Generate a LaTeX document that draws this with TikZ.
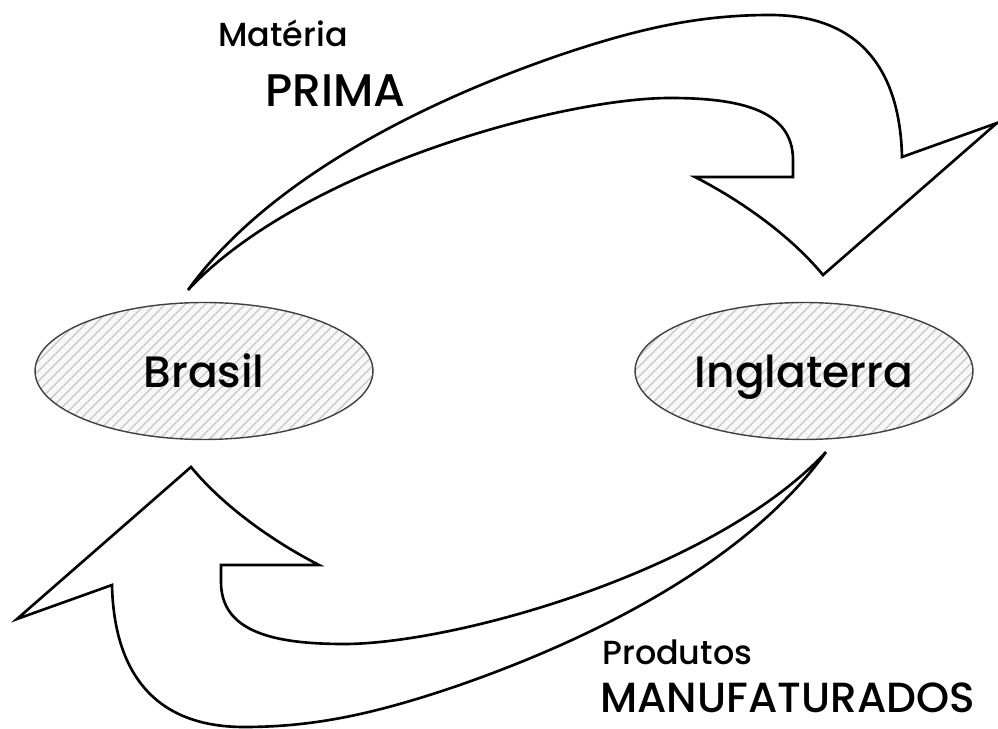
\documentclass[tikz,border=0pt]{standalone}
\usepackage{fontspec}
\setmainfont{Poppins}[UprightFont={* Medium}]
\usepackage{tikz}
\usetikzlibrary{shapes.geometric,patterns.meta}

\begin{document}
\begin{tikzpicture}[x=0.02cm, y=-0.02cm,
  country/.style={ellipse, draw=black!75, line width=0.8pt, minimum width=6.76cm, minimum height=2.74cm, inner sep=0pt, text depth=0pt, preaction={fill=gray!6}, pattern={Lines[angle=45,distance=4pt,line width=0.9pt]}, pattern color=gray!40, font=\fontsize{25}{30}\selectfont},
  small/.style={anchor=base west, inner sep=0pt, font=\fontsize{19}{24}\selectfont},
  big/.style={anchor=base west, inner sep=0pt, font=\fontsize{26}{32}\selectfont},
  bigarrow/.style={draw=black, line width=1.5pt, fill=white, line join=miter},
  flowarrow/.pic={
    \path[bigarrow] (188,290) .. controls (260,190) and (400,110) .. (560,55)
      .. controls (640,28) and (700,15) .. (770,15)
      .. controls (860,15) and (900,70) .. (902,157)
      -- (997,123) -- (823,275)
      .. controls (790,235) and (740,200) .. (695,177)
      -- (793,177) -- (793,160)
      .. controls (793,110) and (740,98) .. (670,98)
      .. controls (560,98) and (300,170) .. (188,290) -- cycle;
  }]
\useasboundingbox (0,0) rectangle (998,729);

\pic (exporta) at (0,0) {flowarrow};
\pic[rotate=180] (importa) at (1014,742) {flowarrow};

\node[country] (brasil) at (204,371) {Brasil};
\node[country] (inglaterra) at (804,371) {Inglaterra};

\node[small] (materia) at (218,47) {Matéria};
\node[big] (prima) at (265,107) {PRIMA};
\node[small] (produtos) at (602,664) {Produtos};
\node[big, font=\fontsize{24}{30}\selectfont] (manufaturados) at (600,712) {MANUFATURADOS};
\end{tikzpicture}
\end{document}
